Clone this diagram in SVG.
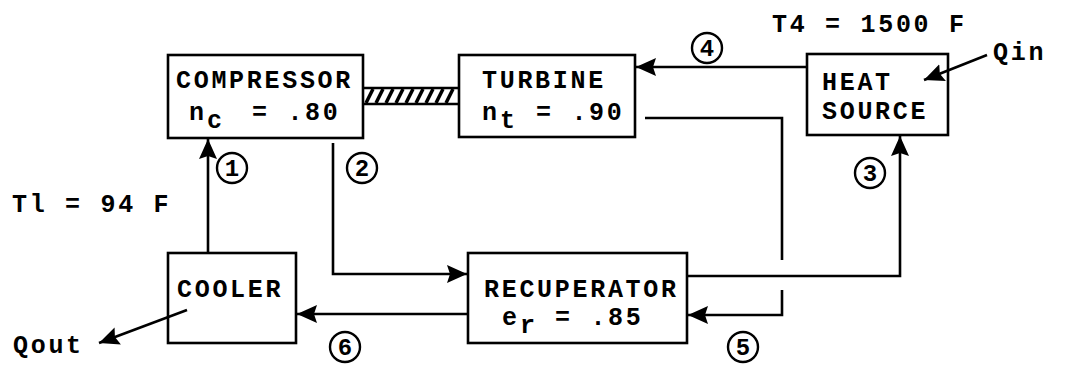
<svg xmlns="http://www.w3.org/2000/svg" width="1066" height="366" viewBox="0 0 1066 366">
<defs>
<style>
.box{fill:#fff;stroke:#000;stroke-width:2.6}
.t{font-family:"Liberation Mono","Courier New",monospace;font-weight:bold;font-size:25px;letter-spacing:2.7px;fill:#000}
.num{font-family:"Liberation Mono","Courier New",monospace;font-weight:bold;font-size:24px;fill:#000;text-anchor:middle}
.c{fill:#fff;stroke:#000;stroke-width:2.4}
.ln{fill:none;stroke:#000;stroke-width:2.6}
.arr{fill:none;stroke:#000;stroke-width:2.6;marker-end:url(#ah)}
</style>
<marker id="ah" markerUnits="userSpaceOnUse" markerWidth="24" markerHeight="20" refX="20" refY="9" orient="auto">
<path d="M0,0 L20,9 L0,18 L3,9 Z" fill="#000"/>
</marker>
</defs>
<rect width="1066" height="366" fill="#fff"/>

<g id="shaft">
<line x1="363" y1="88" x2="460" y2="88" stroke="#000" stroke-width="2.6"/>
<line x1="363" y1="104" x2="460" y2="104" stroke="#000" stroke-width="2.6"/>
<g stroke="#000" stroke-width="3.5">
<line x1="366" y1="103" x2="373" y2="89"/>
<line x1="376" y1="103" x2="383" y2="89"/>
<line x1="386" y1="103" x2="393" y2="89"/>
<line x1="396" y1="103" x2="403" y2="89"/>
<line x1="406" y1="103" x2="413" y2="89"/>
<line x1="416" y1="103" x2="423" y2="89"/>
<line x1="426" y1="103" x2="433" y2="89"/>
<line x1="436" y1="103" x2="443" y2="89"/>
<line x1="446" y1="103" x2="453" y2="89"/>
</g>
</g>

<g id="compressor">
<rect class="box" x="168" y="55" width="195" height="83"/>
<text class="t" x="176" y="88">COMPRESSOR</text>
<text class="t" x="189" y="120">n</text>
<text class="t" x="207" y="128">c</text>
<text class="t" x="252" y="120">= .80</text>
</g>

<g id="turbine">
<rect class="box" x="459" y="55" width="176" height="82"/>
<text class="t" x="482" y="88">TURBINE</text>
<text class="t" x="482" y="120">n</text>
<text class="t" x="500" y="128">t</text>
<text class="t" x="536" y="120">= .90</text>
</g>

<g id="heatsource">
<rect class="box" x="807" y="54" width="141" height="81"/>
<text class="t" x="822" y="90">HEAT</text>
<text class="t" x="822" y="119">SOURCE</text>
</g>

<g id="cooler">
<rect class="box" x="168" y="253" width="128" height="90"/>
<text class="t" x="177" y="297">COOLER</text>
</g>

<g id="recuperator">
<rect class="box" x="468" y="253" width="219" height="90"/>
<text class="t" x="484" y="297">RECUPERATOR</text>
<text class="t" x="502" y="325">e</text>
<text class="t" x="520" y="333">r</text>
<text class="t" x="555" y="325">= .85</text>
</g>

<g id="connectors">
<path class="arr" d="M208,253 V139"/>
<path class="arr" d="M333,143 V274 H467"/>
<path class="arr" d="M687,276 H900 V136"/>
<path class="arr" d="M806,67 H636"/>
<path class="ln" d="M645,118 H782 V260"/>
<path class="arr" d="M782,290 V315 H688"/>
<path class="arr" d="M467,314 H297"/>
<path class="arr" d="M987,55 L924,80"/>
<path class="arr" d="M187,310 L99,343"/>
</g>

<g id="labels">
<text class="t" x="772" y="32">T4 = 1500 F</text>
<text class="t" x="12" y="212">Tl = 94 F</text>
<text class="t" x="993" y="60">Qin</text>
<text class="t" x="13" y="353">Qout</text>
</g>

<g id="state1"><circle class="c" cx="232" cy="168" r="15"/><text class="num" x="232" y="176">1</text></g>
<g id="state2"><circle class="c" cx="362" cy="168" r="15"/><text class="num" x="362" y="176">2</text></g>
<g id="state3"><circle class="c" cx="870" cy="173" r="15"/><text class="num" x="870" y="181">3</text></g>
<g id="state4"><circle class="c" cx="707" cy="48" r="15"/><text class="num" x="707" y="56">4</text></g>
<g id="state5"><circle class="c" cx="743" cy="347" r="15"/><text class="num" x="743" y="355">5</text></g>
<g id="state6"><circle class="c" cx="345" cy="347" r="15"/><text class="num" x="345" y="355">6</text></g>
</svg>
